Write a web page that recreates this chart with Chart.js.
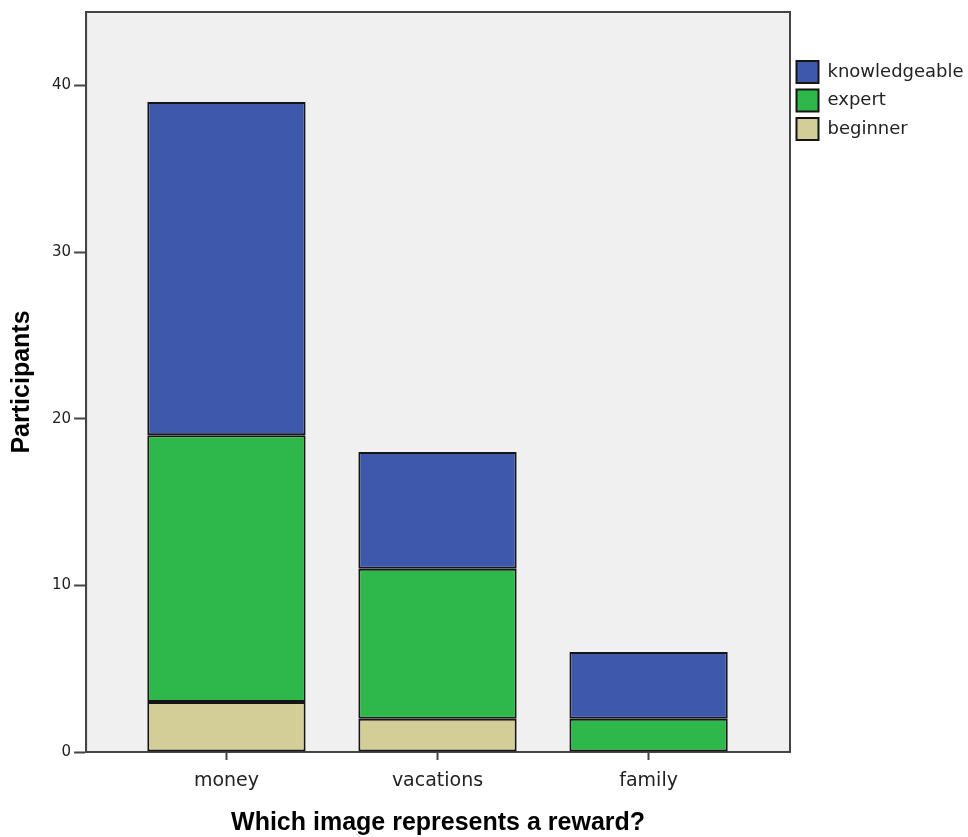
<!DOCTYPE html>
<html>
<head>
<meta charset="utf-8">
<script src="https://cdn.jsdelivr.net/npm/chart.js@4.4.0/dist/chart.umd.min.js"></script>
<style>
  body { margin: 0; background: #fff; }
</style>
</head>
<body>
<canvas id="rewardChart" width="968" height="837"></canvas>
<script>
const categories = ['money', 'vacations', 'family'];
const positions = [1, 2, 3];
const beginner = [3, 2, 0];
const expert = [16, 9, 2];
const knowledgeable = [20, 7, 4];
const yTicks = [0, 10, 20, 30, 40];

// grey plot panel with a frame, like the SPSS output
const plotBackground = {
  id: 'plotBackground',
  beforeDraw(chart) {
    const { ctx, chartArea: a } = chart;
    ctx.save();
    ctx.fillStyle = '#f0f0f0';
    ctx.fillRect(a.left, a.top, a.width, a.height);
    ctx.strokeStyle = '#444';
    ctx.lineWidth = 2;
    ctx.strokeRect(a.left, a.top, a.width, a.height);
    ctx.restore();
  }
};

const barStyle = {
  borderColor: '#151515',
  borderWidth: 2,
  borderSkipped: false,
  inflateAmount: 0,
  categoryPercentage: 1,
  barPercentage: 0.75
};

const ctx = document.getElementById('rewardChart').getContext('2d');
const chart = new Chart(ctx, {
  type: 'bar',
  data: {
    labels: positions,
    datasets: [
      { label: 'beginner', data: beginner, backgroundColor: '#d3ce97', ...barStyle },
      { label: 'expert', data: expert, backgroundColor: '#2fb84a', ...barStyle },
      { label: 'knowledgeable', data: knowledgeable, backgroundColor: '#3e58ac', ...barStyle }
    ]
  },
  options: {
    responsive: false,
    animation: false,
    layout: { padding: { top: 10, left: 0, right: 0, bottom: 0 } },
    plugins: {
      tooltip: { enabled: false },
      legend: {
        position: 'right',
        align: 'start',
        reverse: true,
        maxWidth: 178,
        title: {
          display: true,
          text: ' ',
          font: { size: 10, lineHeight: 1 },
          padding: { top: 34.5, bottom: 0 }
        },
        labels: {
          boxWidth: 22,
          boxHeight: 22,
          padding: 6.5,
          color: '#222',
          font: { family: 'DejaVu Sans', size: 18 }
        }
      }
    },
    scales: {
      x: {
        type: 'linear',
        stacked: true,
        offset: false,
        min: 0.335,
        max: 3.67,
        afterBuildTicks: scale => { scale.ticks = positions.map(v => ({ value: v })); },
        grid: { offset: false, drawOnChartArea: false, drawTicks: true, tickLength: 8, tickColor: '#444', tickWidth: 2 },
        border: { display: true, color: '#444', width: 2 },
        ticks: {
          padding: 9.6,
          maxRotation: 0,
          autoSkip: false,
          color: '#222',
          font: { family: 'DejaVu Sans', size: 19 },
          callback: (value, index) => categories[index]
        },
        title: {
          display: true,
          text: 'Which image represents a reward?',
          color: '#000',
          font: { family: 'Liberation Sans', size: 25, weight: 'bold', lineHeight: 1.1 },
          padding: { top: 7.5, bottom: 0 }
        }
      },
      y: {
        stacked: true,
        min: 0,
        max: 44.4,
        afterBuildTicks: scale => { scale.ticks = yTicks.map(v => ({ value: v })); },
        grid: { drawOnChartArea: false, drawTicks: true, tickLength: 12, tickColor: '#444', tickWidth: 2 },
        border: { display: true, color: '#444', width: 2 },
        ticks: {
          padding: 3,
          color: '#222',
          font: { family: 'DejaVu Sans', size: 15 }
        },
        title: {
          display: true,
          text: 'Participants',
          color: '#000',
          font: { family: 'Liberation Sans', size: 25, weight: 'bold', lineHeight: 1.1 },
          padding: { top: 8.25, bottom: 13.25 }
        }
      }
    }
  },
  plugins: [plotBackground]
});
</script>
</body>
</html>
